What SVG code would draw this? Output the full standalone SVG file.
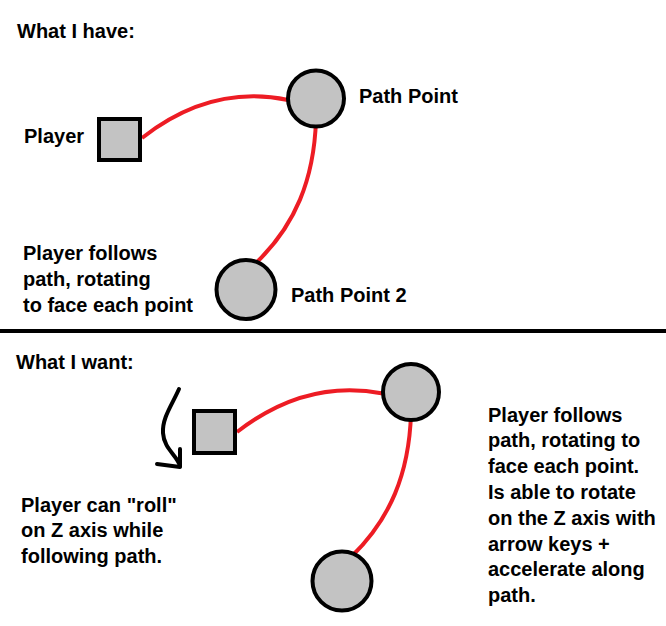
<svg xmlns="http://www.w3.org/2000/svg" width="666" height="626" viewBox="0 0 666 626">
  <style>
    .t { font-family: "Liberation Sans", Arial, sans-serif; font-weight: bold; font-size: 20px; fill: #000; }
    .node { fill: #c3c3c3; stroke: #000; stroke-width: 4; }
    .path { fill: none; stroke: #ed1c24; stroke-width: 4; stroke-linecap: butt; }
    .arrow { fill: none; stroke: #000; stroke-width: 4; stroke-linecap: round; stroke-linejoin: round; }
  </style>
  <rect width="666" height="626" fill="#fff"/>

  <!-- Top section -->
  <text class="t" x="17" y="38">What I have:</text>

  <g id="connectors-top">
    <path class="path" d="M142,138 Q211,84 288,100"/>
    <path class="path" d="M316,120 C314,180 295,225 257,262"/>
  </g>

  <g id="player-top">
    <rect class="node" x="99" y="119" width="41" height="41"/>
    <text class="t" x="24" y="143">Player</text>
  </g>
  <g id="pathpoint-top">
    <circle class="node" cx="316" cy="98.5" r="28"/>
    <text class="t" x="359" y="103">Path Point</text>
  </g>
  <g id="pathpoint2-top">
    <circle class="node" cx="246" cy="289.5" r="29.5"/>
    <text class="t" x="291" y="302">Path Point 2</text>
  </g>
  <g id="note-top">
    <text class="t" x="23" y="260">Player follows</text>
    <text class="t" x="23" y="286">path, rotating</text>
    <text class="t" x="23" y="311.5">to face each point</text>
  </g>

  <line x1="0" y1="331" x2="666" y2="331" stroke="#000" stroke-width="4"/>

  <!-- Bottom section -->
  <text class="t" x="16" y="369">What I want:</text>

  <g id="connectors-bottom">
    <path class="path" d="M237,432 Q306,378.4 383,393.5"/>
    <path class="path" d="M411,414 C409,474 390,519 352,556"/>
    <path class="arrow" d="M179,389 C172,405 162,418 163,433 C164,449 177,455 180,466"/>
    <path class="arrow" d="M157,464 L180,467 L180,449"/>
  </g>

  <g id="player-bottom">
    <rect class="node" x="194" y="411" width="41" height="42"/>
  </g>
  <g id="pathpoint-bottom">
    <circle class="node" cx="411" cy="392" r="28"/>
  </g>
  <g id="pathpoint2-bottom">
    <circle class="node" cx="342" cy="581" r="29.5"/>
  </g>

  <g id="note-bottom-left">
    <text class="t" x="21" y="511.5">Player can "roll"</text>
    <text class="t" x="21" y="537">on Z axis while</text>
    <text class="t" x="21" y="562.5">following path.</text>
  </g>

  <g id="note-bottom-right">
    <text class="t" x="488" y="421.5">Player follows</text>
    <text class="t" x="488" y="447.3">path, rotating to</text>
    <text class="t" x="488" y="473">face each point.</text>
    <text class="t" x="488" y="499">Is able to rotate</text>
    <text class="t" x="488" y="524.8">on the Z axis with</text>
    <text class="t" x="488" y="550.6">arrow keys +</text>
    <text class="t" x="488" y="576.4">accelerate along</text>
    <text class="t" x="488" y="602.2">path.</text>
  </g>
</svg>
